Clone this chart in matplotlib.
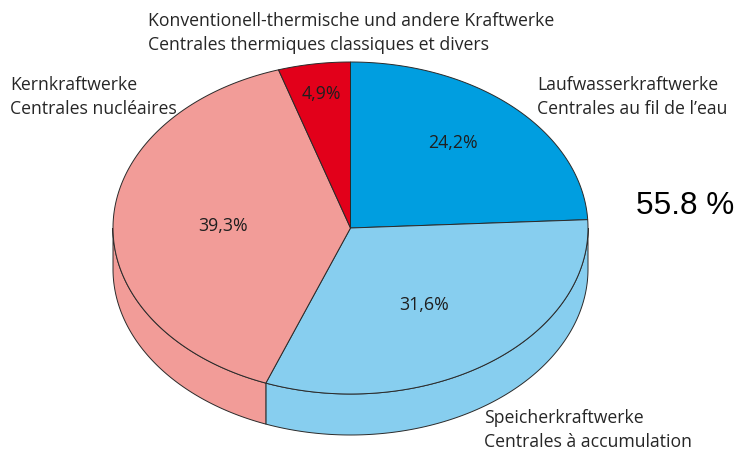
import numpy as np
import matplotlib
matplotlib.use("Agg")
import matplotlib.pyplot as plt

# shares, clockwise from the top
values = [24.2, 31.6, 39.3, 4.9]
value_labels = ["24,2%", "31,6%", "39,3%", "4,9%"]
colors = ["#009EE0", "#87CEEF", "#F29C98", "#E2001A"]
names = ["Laufwasserkraftwerke\nCentrales au fil de l’eau",
         "Speicherkraftwerke\nCentrales à accumulation",
         "Kernkraftwerke\nCentrales nucléaires",
         "Konventionell-thermische und andere Kraftwerke\nCentrales thermiques classiques et divers"]
name_pos = [(537, 97), (484, 430), (10, 97), (148, 33)]
label_pos = [(453, 143), (424, 305), (223, 226), (321, 94)]
side_note = "55.8 %"

cx, cy, rx, ry = 350.5, 228, 237.5, 166
depth = 41
edge = "#2a2a2a"

plt.rcParams['font.family'] = ['Open Sans', 'DejaVu Sans']
fig = plt.figure(figsize=(7.36, 4.51), dpi=100)
ax = fig.add_axes([0, 0, 1, 1])
ax.set_xlim(0, 736)
ax.set_ylim(451, 0)
ax.axis("off")


def arc(a0, a1, dy=0):
    t = np.radians(np.linspace(a0, a1, 200))
    return cx + rx * np.sin(t), cy + dy - ry * np.cos(t)


# walk round the pie
edges = np.concatenate([[0], np.cumsum(values)]) / sum(values) * 360

# side wall first, only the front half can be seen
for i in range(len(values)):
    a0 = max(edges[i], 90)
    a1 = min(edges[i + 1], 270)
    if a1 <= a0:
        continue
    x, y = arc(a0, a1)
    x2, y2 = arc(a1, a0, depth)
    ax.fill(np.r_[x, x2], np.r_[y, y2], color=colors[i], ec=edge, lw=0.7, zorder=1)

# top face
for i in range(len(values)):
    x, y = arc(edges[i], edges[i + 1])
    ax.fill(np.r_[cx, x], np.r_[cy, y], color=colors[i], ec=edge, lw=0.7, zorder=2)

for lab, (px, py) in zip(value_labels, label_pos):
    ax.text(px, py, lab, fontsize=12.8, color="#1f1f1f", ha="center", va="center", zorder=3)

for name, (px, py) in zip(names, name_pos):
    ax.text(px, py, name, fontsize=12.7, color="#262626", ha="left", va="center",
            linespacing=1.38, zorder=3)

ax.text(636, 206, side_note, fontsize=22.7, color="black", family="Liberation Sans",
        ha="left", va="center", zorder=3)

fig.savefig("out.png", dpi=100)
